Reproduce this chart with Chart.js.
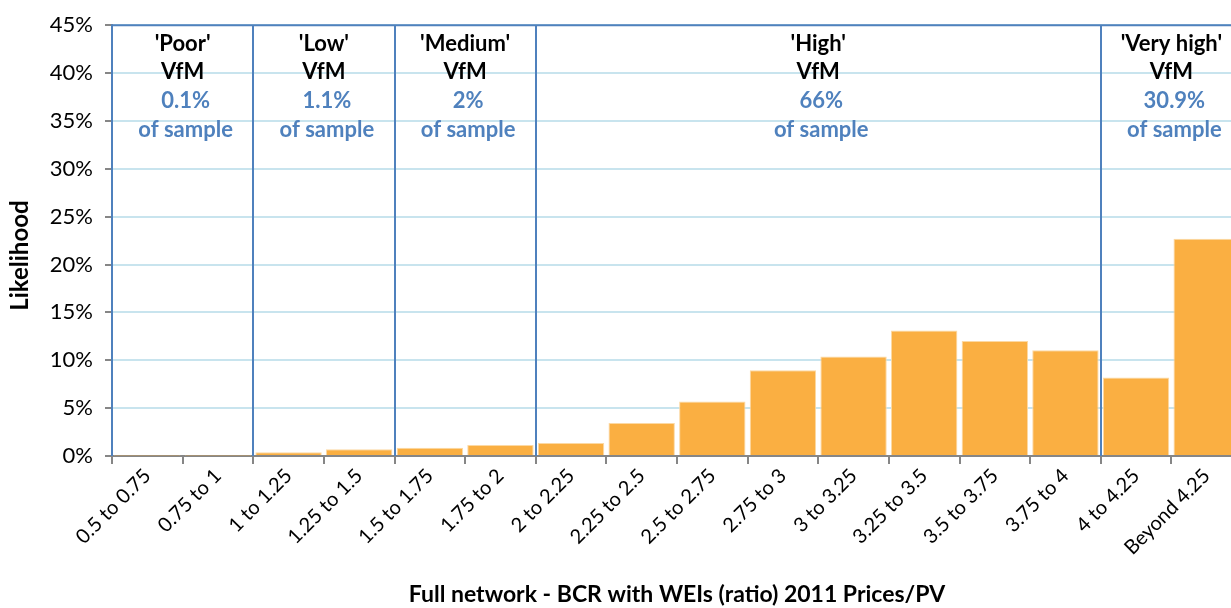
<!DOCTYPE html>
<html>
<head>
<meta charset="utf-8">
<script src="https://cdn.jsdelivr.net/npm/chart.js@4.4.1/dist/chart.umd.min.js"></script>
<style>
  html, body { margin: 0; padding: 0; background: #fff; overflow: hidden; }
  #wrap { width: 1242px; height: 608px; }
</style>
</head>
<body>
<div id="wrap"><canvas id="c" width="1242" height="608"></canvas></div>
<script>
// BCR bands on the x axis
const categories = [
  '0.5 to 0.75', '0.75 to 1', '1 to 1.25', '1.25 to 1.5', '1.5 to 1.75', '1.75 to 2',
  '2 to 2.25', '2.25 to 2.5', '2.5 to 2.75', '2.75 to 3', '3 to 3.25', '3.25 to 3.5',
  '3.5 to 3.75', '3.75 to 4', '4 to 4.25', 'Beyond 4.25'
];
// Likelihood (%) of each BCR band
const likelihood = [0.05, 0.05, 0.4, 0.7, 0.85, 1.15, 1.35, 3.45, 5.7, 8.95, 10.4, 13.1, 12.0, 11.05, 8.2, 22.7];
// Value-for-money groups: name and first category index of each group
const vfmNames = ["'Poor'", "'Low'", "'Medium'", "'High'", "'Very high'"];
const vfmStart = [0, 2, 4, 6, 14];
const yTicks = [0, 5, 10, 15, 20, 25, 30, 35, 40, 45];

const FONT = 'Lato, "Open Sans", sans-serif';
const BLUE = '#4F81BD';
const AXIS = '#868686';

function groupShare(g) {
  const end = g + 1 < vfmStart.length ? vfmStart[g + 1] : likelihood.length;
  let s = 0;
  for (let i = vfmStart[g]; i < end; i++) s += likelihood[i];
  return String(Math.round(s * 10) / 10) + '%';
}

// Group separators, frame top line, group captions and the y-axis title
const vfmBands = {
  id: 'vfmBands',
  afterDatasetsDraw(chart) {
    const { ctx, chartArea: a, scales: { x, y } } = chart;
    const top = y.getPixelForValue(yTicks[yTicks.length - 1]);
    const bottom = y.getPixelForValue(0);
    ctx.save();
    ctx.strokeStyle = BLUE;
    ctx.lineWidth = 2;
    ctx.beginPath();
    ctx.moveTo(a.left - 1, top);
    ctx.lineTo(a.right, top);
    vfmStart.forEach(i => {
      const px = Math.round(x.getPixelForValue(i - 0.5));
      ctx.moveTo(px, top);
      ctx.lineTo(px, bottom);
    });
    ctx.stroke();

    ctx.textAlign = 'center';
    ctx.textBaseline = 'middle';
    vfmStart.forEach((s, g) => {
      const e = g + 1 < vfmStart.length ? vfmStart[g + 1] : categories.length;
      const x0 = x.getPixelForValue(s - 0.5);
      const x1 = x.getPixelForValue(e - 0.5);
      const cx = (x0 + x1) / 2;
      ctx.font = 'bold 22px ' + FONT;
      ctx.fillStyle = '#000';
      ctx.fillText(vfmNames[g], cx, top + 19);
      ctx.fillText('VfM', cx, top + 47);
      ctx.fillStyle = BLUE;
      ctx.fillText(groupShare(g), cx + 3, top + 76);
      ctx.fillText('of sample', cx + 3, top + 105);
    });

    // rotated y-axis title, sitting a little below the plot's mid-height
    ctx.translate(20, (a.top + a.bottom) / 2 + 15);
    ctx.rotate(-Math.PI / 2);
    ctx.fillStyle = '#000';
    ctx.font = 'bold 24px ' + FONT;
    ctx.fillText('Likelihood', 0, 0);
    ctx.restore();
  }
};

new Chart(document.getElementById('c'), {
  type: 'bar',
  data: {
    labels: categories,
    datasets: [{
      data: likelihood,
      backgroundColor: '#FAAF42',
      borderColor: '#FCD9A4',
      borderWidth: { top: 1, left: 1, right: 1, bottom: 0 },
      barPercentage: 0.94,
      categoryPercentage: 1.0
    }]
  },
  options: {
    responsive: false,
    animation: false,
    layout: { padding: { top: 24, right: 0, bottom: 0, left: 0 } },
    plugins: { legend: { display: false }, tooltip: { enabled: false } },
    scales: {
      x: {
        afterFit(s) { s.height = 152; },
        grid: {
          offset: true, drawOnChartArea: false, drawTicks: true,
          tickLength: 8, color: AXIS, lineWidth: 2
        },
        border: { color: AXIS, width: 2 },
        ticks: {
          minRotation: 45, maxRotation: 45, autoSkip: false,
          color: '#000', font: { family: FONT, size: 20 }, padding: 0
        },
        title: {
          display: true,
          text: 'Full network - BCR with WEIs (ratio) 2011 Prices/PV',
          color: '#000', font: { family: FONT, size: 23, weight: 'bold' },
          padding: { top: 0, bottom: 0 }
        }
      },
      y: {
        min: 0, max: 45,
        afterFit(s) { s.width = 112; },
        afterBuildTicks(s) { s.ticks = yTicks.map(v => ({ value: v })); },
        grid: {
          color: '#C8E4EE', lineWidth: 2, tickColor: AXIS, tickLength: 7
        },
        border: { color: AXIS, width: 2 },
        ticks: {
          color: '#000', font: { family: FONT, size: 22 }, padding: 12,
          callback: v => v + '%'
        },
        title: { display: false }
      }
    }
  },
  plugins: [vfmBands]
});
</script>
</body>
</html>
